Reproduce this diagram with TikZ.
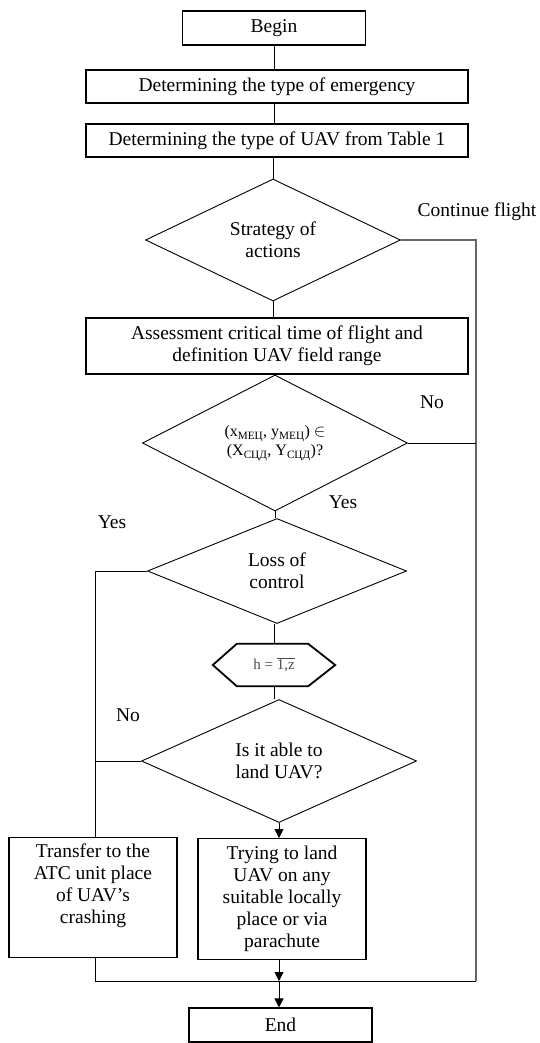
\documentclass[tikz,border=0pt]{standalone}
\usepackage{fontspec}
\setmainfont{Liberation Serif}
\usetikzlibrary{arrows.meta, shapes.geometric, positioning, calc}

\begin{document}
\begin{tikzpicture}[x=1pt,y=-1pt,
    font=\fontsize{19.5}{22}\selectfont,
    box/.style={draw, line width=1.1pt, align=center, inner sep=0pt},
    dec/.style={draw, diamond, aspect=1, line width=0.9pt, align=center, inner sep=0pt},
    arr/.style={-{Triangle[length=9pt,width=9pt]}},
    conn/.style={line width=0.9pt},
    lbl/.style={inner sep=0pt}]
  \useasboundingbox (0,0) rectangle (539,1043);

  % main column
  \node[box, minimum width=183, minimum height=34] (begin) at (274,28) {Begin};
  \node[box, minimum width=382, minimum height=33] (emerg) at (277,86.5) {Determining the type of emergency};
  \node[box, minimum width=382, minimum height=33] (uavtype) at (277,140.5) {Determining the type of UAV from Table 1};
  \node[dec, minimum width=255, minimum height=114] (strat) at (273,240) {Strategy of\\actions};
  \node[box, minimum width=382, minimum height=56] (assess) at (277,346) {Assessment critical time of flight and\\definition UAV field range};
  \node[dec, minimum width=265, minimum height=100,
        font=\fontsize{16}{19}\selectfont] (cond) at (275,443)
        {(x\textsubscript{МЕЦ}, y\textsubscript{МЕЦ}) $\in$\\(X\textsubscript{СЦД}, Y\textsubscript{СЦД})?};
  \node[dec, minimum width=259, minimum height=105] (loss) at (277,571) {Loss of\\control};
  \node[minimum width=122, minimum height=42, inner sep=0pt, text=black!70,
        font=\fontsize{15}{18}\selectfont] (hex) at (274,665) {h = $\overline{\mbox{1,z}}$};
  \draw[line width=1.8pt, line join=miter] (hex.west) -- ($(hex.north west)+(24,0)$) -- ($(hex.north east)+(-27,0)$)
    -- (hex.east) -- ($(hex.south east)+(-27,0)$) -- ($(hex.south west)+(24,0)$) -- cycle;
  \node[dec, minimum width=275, minimum height=110] (land) at (279,761) {Is it able to\\land UAV?};
  \node[box, minimum width=168, minimum height=121, align=center, anchor=north] (trying) at (282,838)
        {Trying to land\\UAV on any\\suitable locally\\place or via\\parachute};
  \node[box, minimum width=168, minimum height=120, anchor=north] (transfer) at (93,837)
        {Transfer to the\\ATC unit place\\of UAV’s\\crashing\\\strut};
  \node[box, minimum width=183, minimum height=34] (end) at (280.5,1025) {End};

  \coordinate (rbus) at (476,981);
  \coordinate (lbus) at (95,981);
  \coordinate (jn) at (land.south |- lbus);

  % connectors
  \draw[conn] (begin.south) -- (begin.south |- emerg.north);
  \draw[conn] (emerg.south -| begin) -- (uavtype.north -| begin);
  \draw[conn] (uavtype.south -| strat) -- (strat.north);
  \draw[conn] (strat.south) -- (strat.south |- assess.north);
  \draw[conn] (assess.south -| cond) -- (cond.north);
  \draw[conn] (cond.south) -- (cond.south |- loss.north);
  \draw[conn] (loss.south -| hex) -- (hex.north);
  \draw[conn] (hex.south) -- (hex.south |- land.north);
  \draw[conn, arr] (land.south) -- (land.south |- trying.north);
  \draw[line width=1.4pt, black!60] (strat.east) -- (strat.east -| rbus) -- (rbus);
  \draw[conn] (cond.east) -- (cond.east -| rbus);
  \draw[conn] (loss.west) -- (loss.west -| lbus) -- (transfer.north -| lbus);
  \draw[conn] (land.west) -- (land.west -| lbus);
  \draw[conn] (transfer.south -| lbus) -- (lbus);
  \draw[conn] (lbus) -- (rbus);
  \draw[conn, arr] (trying.south -| jn) -- (jn);
  \draw[conn, arr] (jn) -- (end.north -| jn);

  % labels
  \node[lbl] (lcont) at (477,212) {Continue flight};
  \node[lbl] (lno1) at (432,402) {No};
  \node[lbl] (lyes1) at (343,502) {Yes};
  \node[lbl] (lyes2) at (112,522) {Yes};
  \node[lbl] (lno2) at (128,715) {No};
\end{tikzpicture}
\end{document}
